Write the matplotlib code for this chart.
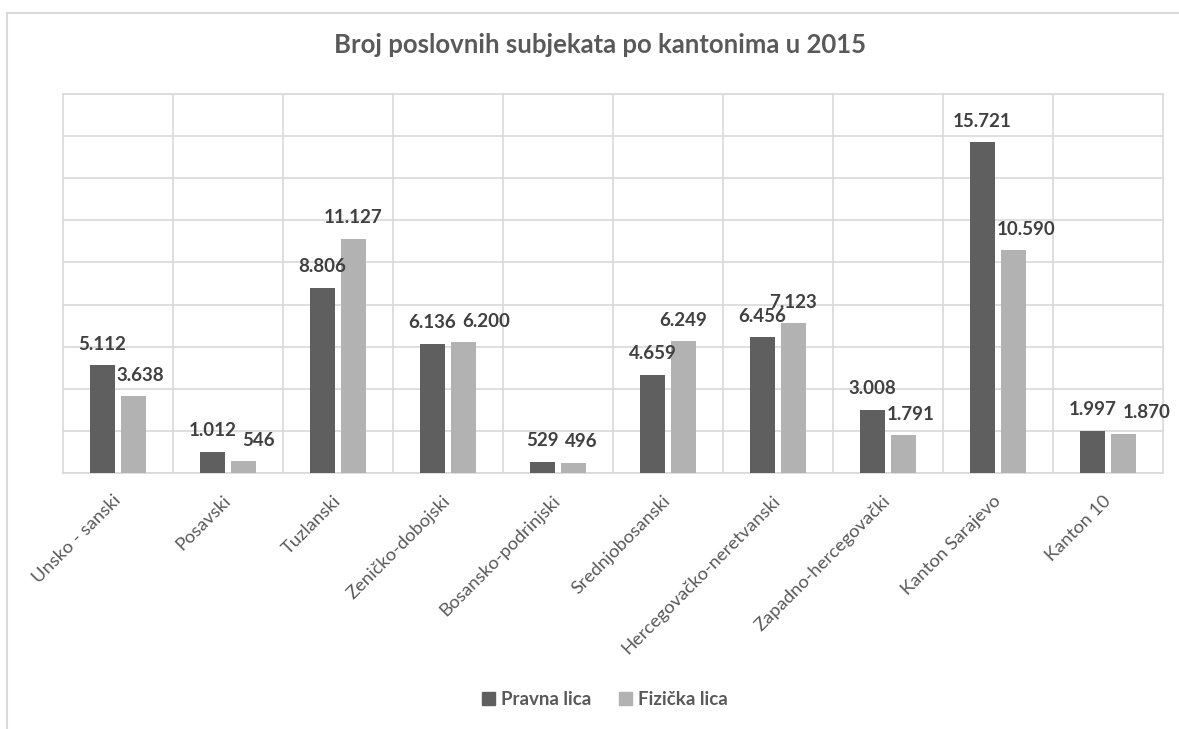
import matplotlib.pyplot as plt
import matplotlib.transforms as mtransforms
import numpy as np
from matplotlib.lines import Line2D
from matplotlib.patches import Patch

plt.rcParams['font.family'] = ['Lato', 'DejaVu Sans']

# data
kantoni = ["Unsko - sanski", "Posavski", "Tuzlanski", "Zeničko-dobojski",
           "Bosansko-podrinjski", "Srednjobosanski", "Hercegovačko-neretvanski",
           "Zapadno-hercegovački", "Kanton Sarajevo", "Kanton 10"]
pravna = [5112, 1012, 8806, 6136, 529, 4659, 6456, 3008, 15721, 1997]
fizicka = [3638, 546, 11127, 6200, 496, 6249, 7123, 1791, 10590, 1870]
series_names = ["Pravna lica", "Fizička lica"]

DARK = "#5f5f5f"
LIGHT = "#b2b2b2"
GRID = "#d9d9d9"
TXT = "#595959"
LBL = "#404040"


def fmt(v):
    # thousands separator as dot
    return f"{v:,}".replace(",", ".")


fig = plt.figure(figsize=(11.79, 7.29), dpi=100)
ax = fig.add_axes([0.0534, 0.3512, 0.9330, 0.5198])

x = np.arange(len(kantoni))
w = 0.223
off = 0.14
bars_p = ax.bar(x - off, pravna, w, color=DARK, zorder=3)
bars_f = ax.bar(x + off, fizicka, w, color=LIGHT, zorder=3)

ax.set_xlim(-0.5, len(kantoni) - 0.5)
ax.set_ylim(0, 18000)
ax.set_yticks(np.arange(0, 18001, 2000))
ax.set_xticks(x)
ax.set_xticks(x[:-1] + 0.5, minor=True)
ax.set_xticklabels(kantoni, rotation=45, ha="right", rotation_mode="anchor",
                   fontsize=13.2, color=TXT)
ax.tick_params(axis="x", which="both", length=0, pad=14)
ax.tick_params(axis="y", length=0, labelleft=False)
shift_t = mtransforms.ScaledTranslation(-4 / 72, 0, fig.dpi_scale_trans)
for t in ax.get_xticklabels():
    t.set_transform(t.get_transform() + shift_t)
ax.grid(axis="y", color=GRID, lw=1.2, zorder=0)
ax.grid(axis="x", which="minor", color=GRID, lw=1.2, zorder=0)
for s in ax.spines.values():
    s.set_color(GRID)
    s.set_linewidth(1.2)

OY = 9
labs_p = [ax.annotate(fmt(v), (b.get_x() + b.get_width() / 2, v), xytext=(0, OY),
                      textcoords="offset points", ha="center", va="bottom",
                      fontsize=13.5, fontweight="bold", color=LBL, zorder=4)
          for b, v in zip(bars_p, pravna)]
labs_f = [ax.annotate(fmt(v), (b.get_x() + b.get_width() / 2, v), xytext=(0, OY),
                      textcoords="offset points", ha="center", va="bottom",
                      fontsize=13.5, fontweight="bold", color=LBL, zorder=4)
          for b, v in zip(bars_f, fizicka)]

fig.suptitle("Broj poslovnih subjekata po kantonima u 2015", x=0.509, y=0.955,
             fontsize=18.5, fontweight="bold", color=TXT)

handles = [Patch(color=DARK), Patch(color=LIGHT)]
fig.legend(handles, series_names, loc="center", bbox_to_anchor=(0.513, 0.04),
           ncol=2, frameon=False, handlelength=0.7, handleheight=0.7,
           handletextpad=0.3, columnspacing=1.5,
           prop={"size": 13.5, "weight": "bold"}, labelcolor=TXT)

# frame lines of the chart area
fig.add_artist(Line2D([7 / 1179, 1], [1 - 13 / 729] * 2, color=GRID, lw=1.5))
fig.add_artist(Line2D([7 / 1179] * 2, [0, 1 - 13 / 729], color=GRID, lw=1.5))

# push light labels right where they would collide, like Excel does
fig.canvas.draw()
r = fig.canvas.get_renderer()
for bp, lp, lf in zip(bars_p, labs_p, labs_f):
    bl = lf.get_window_extent(r)
    bd = lp.get_window_extent(r)
    bb = bp.get_window_extent(r)
    shift = 0
    if bl.y0 < bb.y1 and bl.x0 < bb.x1 + 2:
        shift = max(shift, bb.x1 + 2 - bl.x0)
    if bl.y0 < bd.y1 - 3 and bl.y1 > bd.y0 + 3 and bl.x0 < bd.x1 + 6:
        shift = max(shift, bd.x1 + 6 - bl.x0)
    if shift:
        lf.xyann = (shift * 72 / fig.dpi, OY)

fig.savefig("out.png", dpi=100)
